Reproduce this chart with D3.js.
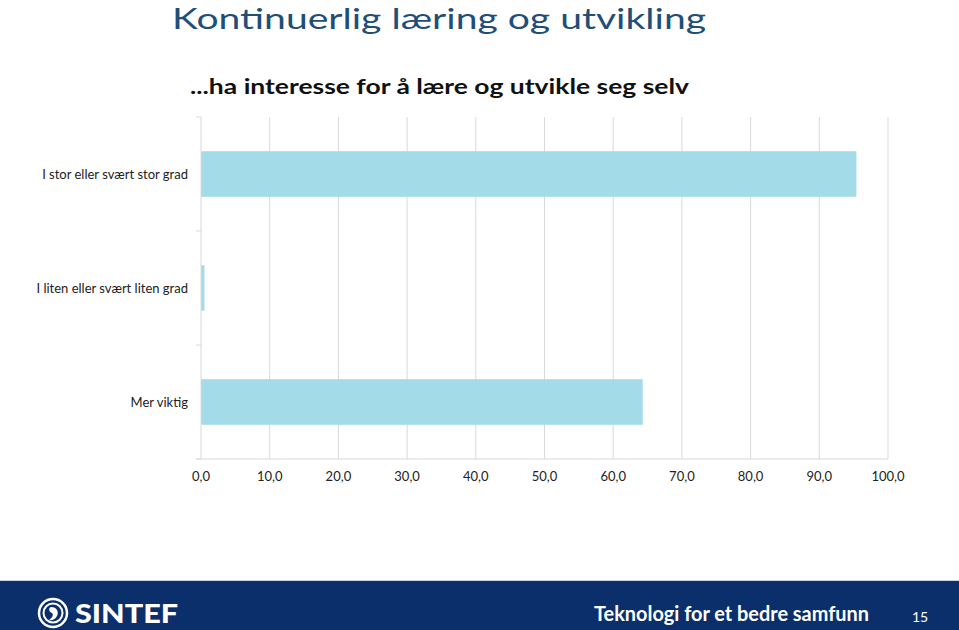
<!DOCTYPE html>
<html>
<head>
<meta charset="utf-8">
<script src="https://cdn.jsdelivr.net/npm/d3@7/dist/d3.min.js"></script>
<style>
  body { margin: 0; background: #fff; }
  svg { display: block; font-family: Lato, "Open Sans", sans-serif; }
</style>
</head>
<body>
<svg id="chart" width="959" height="630"></svg>
<script>
const categories = ["I stor eller svært stor grad", "I liten eller svært liten grad", "Mer viktig"];
const values = [95.4, 0.5, 64.3];
const tickValues = [0, 10, 20, 30, 40, 50, 60, 70, 80, 90, 100];
const tickLabels = ["0,0", "10,0", "20,0", "30,0", "40,0", "50,0", "60,0", "70,0", "80,0", "90,0", "100,0"];
const title = "Kontinuerlig læring og utvikling";
const subtitle = "...ha interesse for å lære og utvikle seg selv";
const footerText = "Teknologi for et bedre samfunn";
const pageNumber = "15";

const svg = d3.select("#chart");
const plot = { left: 201, right: 888, top: 117, bottom: 459 };

const x = d3.scaleLinear().domain([0, 100]).range([plot.left, plot.right]);
const y = d3.scaleBand().domain(categories).range([plot.top, plot.bottom]).paddingInner(0.6).paddingOuter(0.3);

// Title
svg.append("text").attr("x", 172).attr("y", 29)
  .attr("font-size", 29).attr("fill", "#1f4e79")
  .attr("textLength", 534).attr("lengthAdjust", "spacingAndGlyphs")
  .text(title);

svg.append("text").attr("x", 190).attr("y", 94)
  .attr("font-size", 20).attr("font-weight", "bold").attr("fill", "#111")
  .attr("textLength", 499).attr("lengthAdjust", "spacingAndGlyphs")
  .text(subtitle);

// Gridlines
svg.append("g").selectAll("line").data(tickValues.slice(1)).join("line")
  .attr("x1", d => x(d)).attr("x2", d => x(d))
  .attr("y1", plot.top).attr("y2", plot.bottom)
  .attr("stroke", "#d9d9d9").attr("stroke-width", 1);

// Bars
svg.append("g").selectAll("rect").data(categories).join("rect")
  .attr("x", x(0)).attr("y", d => y(d))
  .attr("width", (d, i) => x(values[i]) - x(0))
  .attr("height", y.bandwidth())
  .attr("fill", "#a3dce8");

// Y axis line and ticks at band boundaries
const ax = svg.append("g").attr("stroke", "#d9d9d9").attr("stroke-width", 1);
ax.append("line").attr("x1", plot.left).attr("x2", plot.left).attr("y1", plot.top).attr("y2", plot.bottom);
const step = (plot.bottom - plot.top) / categories.length;
ax.selectAll(".yt").data(d3.range(categories.length + 1)).join("line")
  .attr("x1", plot.left - 5).attr("x2", plot.left)
  .attr("y1", d => plot.top + d * step).attr("y2", d => plot.top + d * step);
// X axis line
ax.append("line").attr("x1", plot.left - 5).attr("x2", plot.right).attr("y1", plot.bottom).attr("y2", plot.bottom);

// Category labels
svg.append("g").selectAll("text").data(categories).join("text")
  .attr("x", 188).attr("y", d => y(d) + y.bandwidth() / 2)
  .attr("dy", "0.35em").attr("text-anchor", "end")
  .attr("font-size", 13).attr("fill", "#222")
  .text(d => d);

// X tick labels
svg.append("g").selectAll("text").data(tickValues).join("text")
  .attr("x", d => x(d)).attr("y", 481)
  .attr("text-anchor", "middle").attr("font-size", 13).attr("fill", "#222")
  .text((d, i) => tickLabels[i]);

// Footer
svg.append("rect").attr("x", 0).attr("y", 581).attr("width", 959).attr("height", 49).attr("fill", "#0b2f6b");
svg.append("line").attr("x1", 0).attr("x2", 959).attr("y1", 580.5).attr("y2", 580.5).attr("stroke", "#c9d3e0");

// Logo
const logo = svg.append("g").attr("transform", "translate(53,613)");
logo.append("circle").attr("r", 14).attr("fill", "none").attr("stroke", "#fff").attr("stroke-width", 2.5);
logo.append("circle").attr("r", 9.5).attr("fill", "none").attr("stroke", "#fff").attr("stroke-width", 2);
logo.append("path").attr("d", "M-2,-6 C4,-6 6,-1 4,3 C2,7 -2,8 -4,7 C-1,5 1,2 -1,0 C-4,-1 -5,-5 -2,-6 Z").attr("fill", "#fff");
svg.append("text").attr("x", 75).attr("y", 623)
  .attr("font-size", 27).attr("font-weight", 900).attr("fill", "#fff")
  .attr("textLength", 103).attr("lengthAdjust", "spacingAndGlyphs")
  .text("SINTEF");

svg.append("text").attr("x", 594).attr("y", 621)
  .attr("font-size", 20).attr("font-weight", "bold").attr("fill", "#fff")
  .attr("textLength", 275).attr("lengthAdjust", "spacingAndGlyphs")
  .text(footerText);
svg.append("text").attr("x", 912).attr("y", 622)
  .attr("font-size", 14).attr("fill", "#fff")
  .text(pageNumber);
</script>
</body>
</html>
